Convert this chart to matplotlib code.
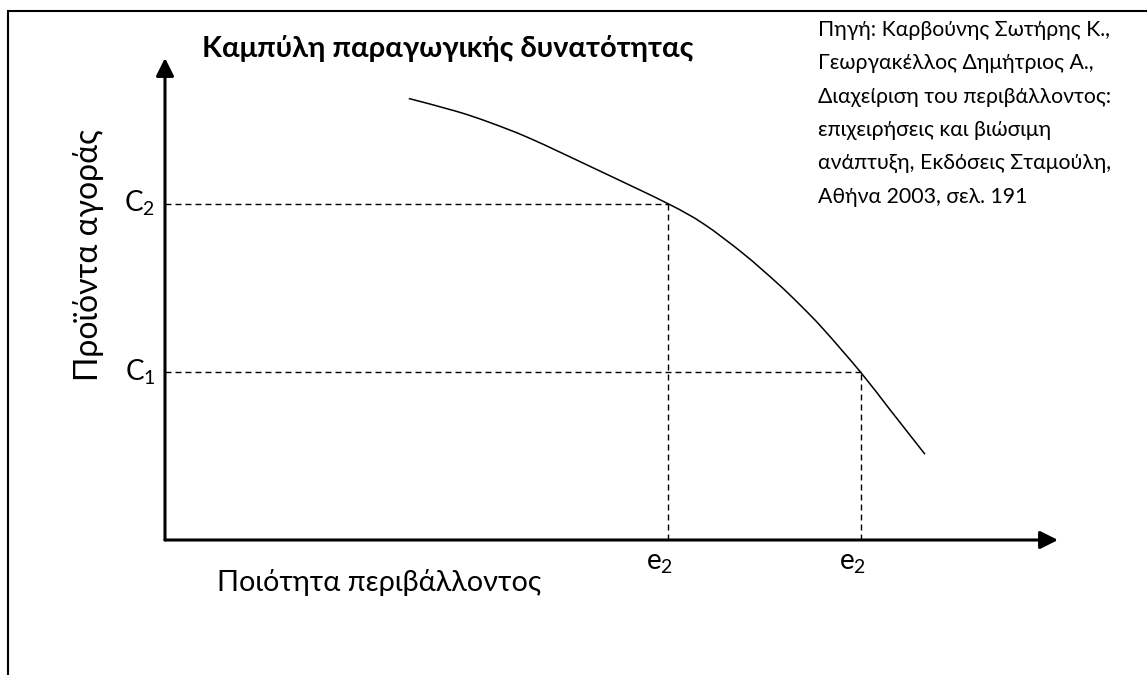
import matplotlib
matplotlib.use('Agg')
import matplotlib.pyplot as plt
from matplotlib.patches import Rectangle, PathPatch
from matplotlib.path import Path

plt.rcParams['font.family'] = ['Lato', 'DejaVu Sans']
plt.rcParams['mathtext.default'] = 'regular'

# Production possibility curve (x: environmental quality, y: market products), 0-100 scale
curve_x = [27.3, 32.7, 36.4, 40.9, 48.3, 56.3, 60.3, 64.7, 68.5, 71.1, 73.7, 77.9, 81.2, 85.1]
curve_y = [91.6, 88.9, 86.6, 83.3, 76.9, 69.8, 65.6, 59.5, 53.4, 48.8, 43.8, 34.8, 27.0, 17.8]

level_labels = ['C$_2$', 'C$_1$']
level_y = [69.8, 34.8]
quality_labels = ['e$_2$', 'e$_2$']
quality_x = [56.3, 77.9]

title = 'Καμπύλη παραγωγικής δυνατότητας'
xlabel = 'Ποιότητα περιβάλλοντος'
ylabel = 'Προϊόντα αγοράς'
source_lines = [
    'Πηγή: Καρβούνης Σωτήρης Κ.,',
    'Γεωργακέλλος Δημήτριος Α.,',
    'Διαχείριση του περιβάλλοντος:',
    'επιχειρήσεις και βιώσιμη',
    'ανάπτυξη, Εκδόσεις Σταμούλη,',
    'Αθήνα 2003, σελ. 191',
]

W, H = 1147, 675
fig = plt.figure(figsize=(W / 100, H / 100), dpi=100)
ox, oy, aw, ah = 165, 540, 893, 482
ax = fig.add_axes([ox / W, (H - oy) / H, aw / W, ah / H])
ax.set_xlim(0, 100)
ax.set_ylim(0, 100)
ax.axis('off')

# outer frame
fig.patches.append(Rectangle((8 / W, -0.2), 2.0, (H - 11) / H + 0.2,
                             transform=fig.transFigure, fill=False,
                             lw=1.5, ec='black'))

# axes with arrows
arrow = dict(arrowstyle='-|>', lw=2.2, color='black', mutation_scale=27,
             shrinkA=0, shrinkB=0)
ax.annotate('', xy=(100, 0), xytext=(0, 0), arrowprops=arrow, annotation_clip=False)
ax.annotate('', xy=(0, 100), xytext=(0, 0), arrowprops=arrow, annotation_clip=False)

# smooth curve through the read points (Catmull-Rom drawn as cubic Bezier path)
pts = list(zip(curve_x, curve_y))
verts = [pts[0]]
codes = [Path.MOVETO]
n = len(pts)
for i in range(n - 1):
    p0 = pts[i - 1] if i > 0 else pts[i]
    p1 = pts[i]
    p2 = pts[i + 1]
    p3 = pts[i + 2] if i + 2 < n else pts[i + 1]
    c1 = (p1[0] + (p2[0] - p0[0]) / 6, p1[1] + (p2[1] - p0[1]) / 6)
    c2 = (p2[0] - (p3[0] - p1[0]) / 6, p2[1] - (p3[1] - p1[1]) / 6)
    verts += [c1, c2, p2]
    codes += [Path.CURVE4] * 3
ax.add_patch(PathPatch(Path(verts, codes), fill=False, ec='black', lw=1.1,
                       clip_on=False))

# dashed guides and labels
for ylab, yv, xlab, xv in zip(level_labels, level_y, quality_labels, quality_x):
    ax.plot([0, xv], [yv, yv], color='black', lw=1.0, dashes=(4.3, 2.9), clip_on=False)
    ax.plot([xv, xv], [0, yv], color='black', lw=1.0, dashes=(4.3, 2.9), clip_on=False)
    ax.text(-1.1, yv, ylab, ha='right', va='center', fontsize=20)
    ax.text(xv - 0.9, -4.8, xlab, ha='center', va='center', fontsize=20)

# texts
fig.text(202 / W, 1 - 48 / H, title, ha='left', va='center', fontsize=21, fontweight='bold')
fig.text(379 / W, 1 - 583 / H, xlabel, ha='center', va='center', fontsize=20.8)
fig.text(88 / W, 1 - 255 / H, ylabel, ha='center', va='center', fontsize=23, rotation=90)
fig.text(818 / W, 1 - 20 / H, '\n'.join(source_lines), ha='left', va='top',
         fontsize=15.3, linespacing=1.83)

fig.savefig('out.png', dpi=100)
